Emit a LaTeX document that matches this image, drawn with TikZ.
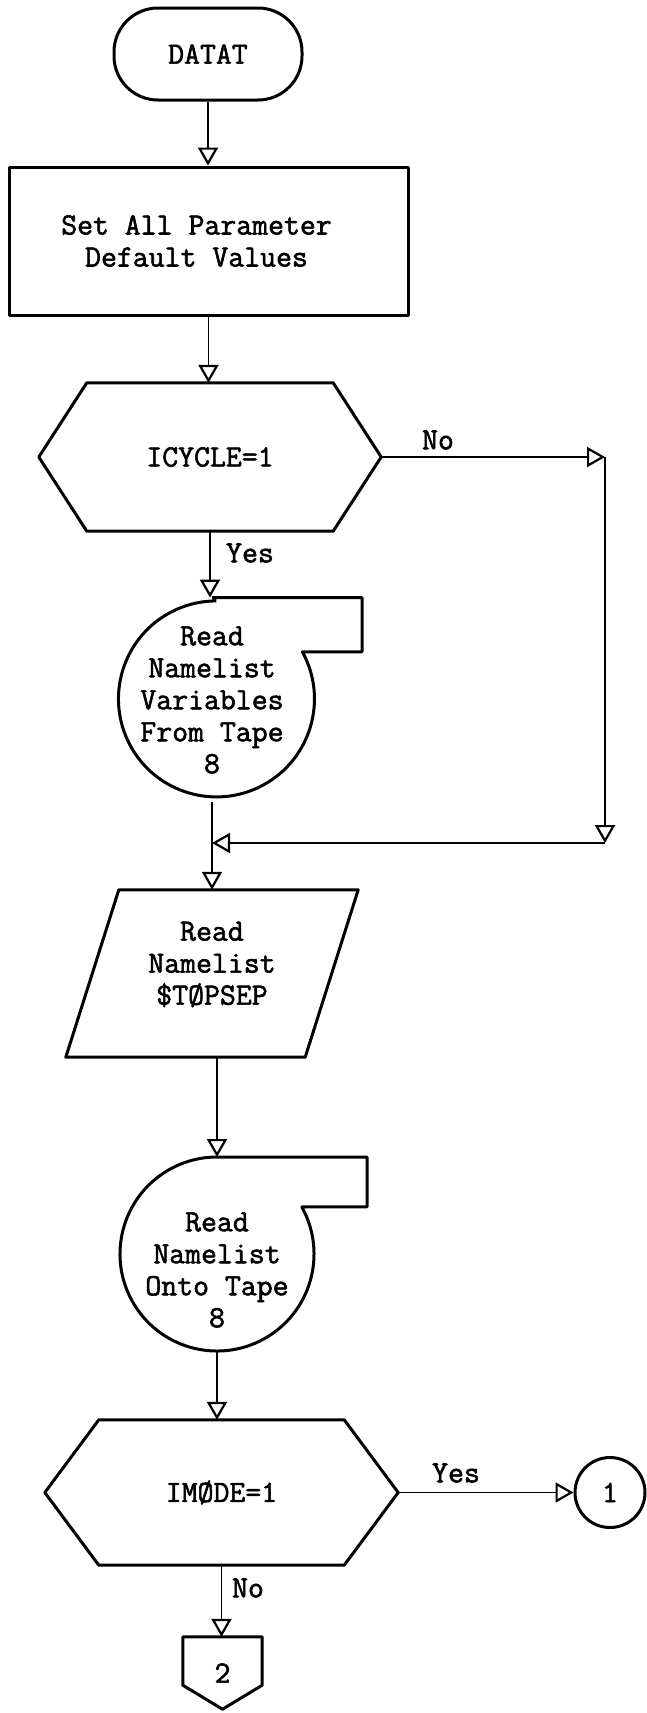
\documentclass[tikz,border=0pt]{standalone}
\usepackage{fontspec}
\newfontfamily\tw[FakeBold=1.8]{Latin Modern Mono}
\usetikzlibrary{arrows.meta,calc}
\begin{document}
\begin{tikzpicture}[x=1pt,y=1pt,
  shp/.style={draw, line width=3pt, line join=round},
  lnk/.style={line width=1.8pt},
  arr/.style={lnk, -{Triangle[open, length=18pt, width=20pt, line width=2.2pt]}},
  txt/.style={font=\tw\fontsize{30.9}{32}\selectfont, align=center},
  lbl/.style={font=\tw\fontsize{30.9}{32}\selectfont, inner sep=0pt},
]
\useasboundingbox (0,0) rectangle (646,-1713);

% terminal
\node[txt, draw, line width=3pt, rounded corners=44pt, minimum width=188pt, minimum height=92pt, inner sep=0pt] (term) at (208,-54) {DATAT};

% process box
\node[shp, minimum width=399pt, minimum height=148pt, inner sep=0pt,
  label={[txt, xshift=-12pt]center:{Set All Parameter\\Default Values}}] (box) at (208.5,-241) {};

% decision 1
\node[txt, minimum width=342pt, minimum height=148pt, inner sep=0pt] (hex1) at (210,-457) {ICYCLE=1};
\draw[shp] ([xshift=48pt]hex1.north west) -- ([xshift=-48pt]hex1.north east) -- (hex1.east)
  -- ([xshift=-48pt]hex1.south east) -- ([xshift=48pt]hex1.south west) -- (hex1.west) -- cycle;

% tape 1
\node[txt, circle, minimum size=196pt, inner sep=0pt, outer sep=0pt] (tape1) at (212,-700) {Read\\Namelist\\Variables\\From Tape\\8};
\draw[shp] (tape1.north) -- ++(150,0) |- (tape1.28.66) arc[start angle=28.66, end angle=-270, radius=98pt];

% loop coordinates
\coordinate (m) at (212,-843);
\coordinate (nc) at (605,-457);
\coordinate (sc) at (605,-843);

% parallelogram
\node[minimum width=292pt, minimum height=167pt, inner sep=0pt,
  label={[txt, yshift=9pt]center:{Read\\Namelist\\\$TØPSEP}}] (para) at (212,-973.5) {};
\draw[shp] ([xshift=53pt]para.north west) -- (para.north east) -- ([xshift=-53pt]para.south east) -- (para.south west) -- cycle;

% tape 2
\node[circle, minimum size=194pt, inner sep=0pt, outer sep=0pt,
  label={[txt, yshift=-16pt]center:{Read\\Namelist\\Onto Tape\\8}}] (tape2) at (217,-1254) {};
\draw[shp] (tape2.north) -- ++(150,0) |- (tape2.29) arc[start angle=29, end angle=-270, radius=97pt];

% decision 2
\node[txt, minimum width=353pt, minimum height=145pt, inner sep=0pt] (hex2) at (221.5,-1492.5) {IMØDE=1};
\draw[shp] ([xshift=54pt]hex2.north west) -- ([xshift=-54pt]hex2.north east) -- (hex2.east)
  -- ([xshift=-54pt]hex2.south east) -- ([xshift=54pt]hex2.south west) -- (hex2.west) -- cycle;

% connector 1
\node[txt, circle, draw, line width=3pt, minimum size=70pt, inner sep=0pt] (c1) at (610,-1492.5) {1};

% off-page connector 2
\node[txt, minimum width=79pt, minimum height=72pt, inner sep=0pt] (c2) at (222.5,-1673) {2};
\draw[shp] (c2.north west) -- (c2.north east) -- ([yshift=24pt]c2.south east) -- (c2.south)
  -- ([yshift=24pt]c2.south west) -- cycle;

% connectors
\draw[arr] (term.south) -- (term.south |- box.north);
\draw[arr] (box.south) -- (box.south |- hex1.north);
\draw[arr] (hex1.south) -- (hex1.south |- tape1.north);
\draw[arr] (hex1.east) -- (nc);
\draw[arr] (nc) -- (sc);
\draw[arr] (sc) -- (m);
\draw[arr] (tape1.south) -- (tape1.south |- para.north);
\draw[arr] (tape2.north |- para.south) -- (tape2.north);
\draw[arr] (tape2.south) -- (tape2.south |- hex2.north);
\draw[arr] (hex2.east) -- (c1.west);
\draw[arr] (hex2.south) -- (hex2.south |- c2.north);

% labels
\node[lbl] (no1) at (438,-440) {No};
\node[lbl] (yes1) at (250,-553) {Yes};
\node[lbl] (yes2) at (456,-1473) {Yes};
\node[lbl] (no2) at (248,-1588) {No};
\end{tikzpicture}
\end{document}
